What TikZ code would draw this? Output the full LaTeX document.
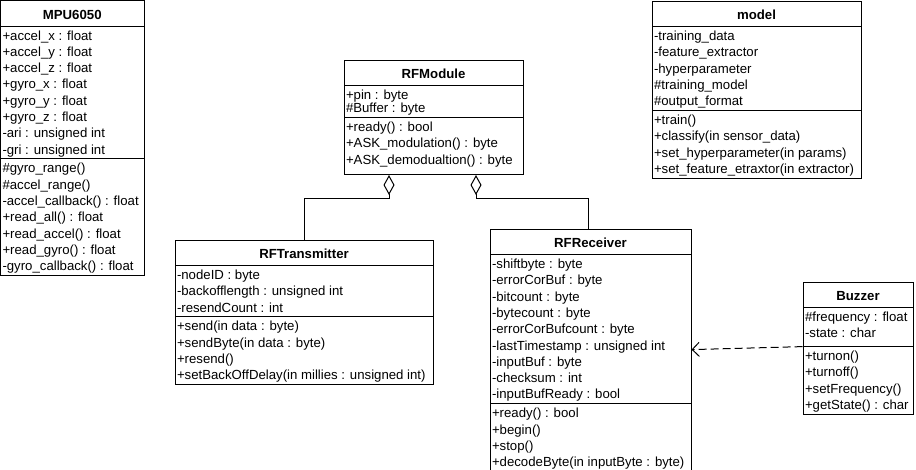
\documentclass[tikz,border=0pt]{standalone}
\usepackage{fontspec}
\setmainfont{Liberation Sans}
\usetikzlibrary{shapes.multipart,arrows.meta}

\newcommand\kopfstrut{\rule[-5.5pt]{0pt}{23pt}}
\newcommand\zs{\rule[-3.5pt]{0pt}{16.3pt}}

\tikzset{
    klasse/.style={draw, line width=1pt, rectangle split, rectangle split parts=3,
        rectangle split part align={center,left,left}, align=left,
        inner xsep=2pt, inner ysep=0.75pt, anchor=north west,
        font=\fontsize{13.2}{16.3}\selectfont},
    aggregation/.style={line width=1pt, -{Diamond[open,length=20pt,width=11pt]}},
    abhaengig/.style={line width=1pt, dash pattern=on 8pt off 4pt,
        -{Straight Barb[length=7pt,width=14pt]}}
}

\begin{document}
\begin{tikzpicture}[x=1pt,y=-1pt]

        \useasboundingbox (0,0) rectangle (916,469);

        % Klassen
        \node [klasse, minimum width=143.5pt] (mpu) at (0,0) {\kopfstrut\textbf{MPU6050}
            \nodepart{second}\zs+accel\_x : float\\+accel\_y : float\\+accel\_z : float\\+gyro\_x : float\\+gyro\_y : float\\+gyro\_z : float\\-ari : unsigned int\\-gri : unsigned int\zs
            \nodepart{third}\zs\#gyro\_range()\\\#accel\_range()\\-accel\_callback() : float\\+read\_all() : float\\+read\_accel() : float\\+read\_gyro() : float\\-gyro\_callback() : float\zs};

        \node [klasse, minimum width=179pt] (rfmodul) at (343.5,59.5) {\kopfstrut\textbf{RFModule}
            \nodepart{second}\zs+pin : byte\\[-3pt]\#Buffer : byte\zs
            \nodepart{third}\zs+ready() : bool\\+ASK\_modulation() : byte\\+ASK\_demodualtion() : byte\zs\rule[-9pt]{0pt}{1pt}};

        \node [klasse, minimum width=209pt] (modell) at (651.5,0.5) {\kopfstrut\textbf{model}
            \nodepart{second}\zs-training\_data\\-feature\_extractor\\-hyperparameter\\\#training\_model\\\#output\_format\zs
            \nodepart{third}\zs+train()\\+classify(in sensor\_data)\\+set\_hyperparameter(in params)\\+set\_feature\_etraxtor(in extractor)\zs};

        \node [klasse, minimum width=258pt] (sender) at (174.5,239.5) {\kopfstrut\textbf{RFTransmitter}
            \nodepart{second}\zs-nodeID : byte\\-backofflength : unsigned int\\-resendCount : int\zs
            \nodepart{third}\zs+send(in data : byte)\\+sendByte(in data : byte)\\+resend()\\+setBackOffDelay(in millies : unsigned int)\zs};

        \node [klasse, minimum width=201pt] (empfaenger) at (489.5,228.5) {\kopfstrut\textbf{RFReceiver}
            \nodepart{second}\zs-shiftbyte : byte\\-errorCorBuf : byte\\-bitcount : byte\\-bytecount : byte\\-errorCorBufcount : byte\\-lastTimestamp : unsigned int\\-inputBuf : byte\\-checksum : int\\-inputBufReady : bool\zs
            \nodepart{third}\zs+ready() : bool\\+begin()\\+stop()\\+decodeByte(in inputByte : byte)\zs};

        \node [klasse, minimum width=110pt] (summer) at (802.5,281.5) {\kopfstrut\textbf{Buzzer}
            \nodepart{second}\zs\#frequency : float\\-state : char\zs\rule[-7.5pt]{0pt}{1pt}
            \nodepart{third}\zs+turnon()\\+turnoff()\\+setFrequency()\\+getState() : char\zs};

        % Aggregationen
        \draw [aggregation] (sender.north) |- ([xshift=-44.5pt, yshift=-23pt]rfmodul.south) -- ([xshift=-44.5pt]rfmodul.south);
        \draw [aggregation] ([xshift=-2.5pt]empfaenger.north) |- ([xshift=42.5pt, yshift=-23pt]rfmodul.south) -- ([xshift=42.5pt]rfmodul.south);

        % Abhaengigkeit
        \coordinate (pfeilende) at (empfaenger.east |- summer.two split west);
        \draw [abhaengig] (summer.two split west) -- ([yshift=-3pt]pfeilende);

\end{tikzpicture}
\end{document}
